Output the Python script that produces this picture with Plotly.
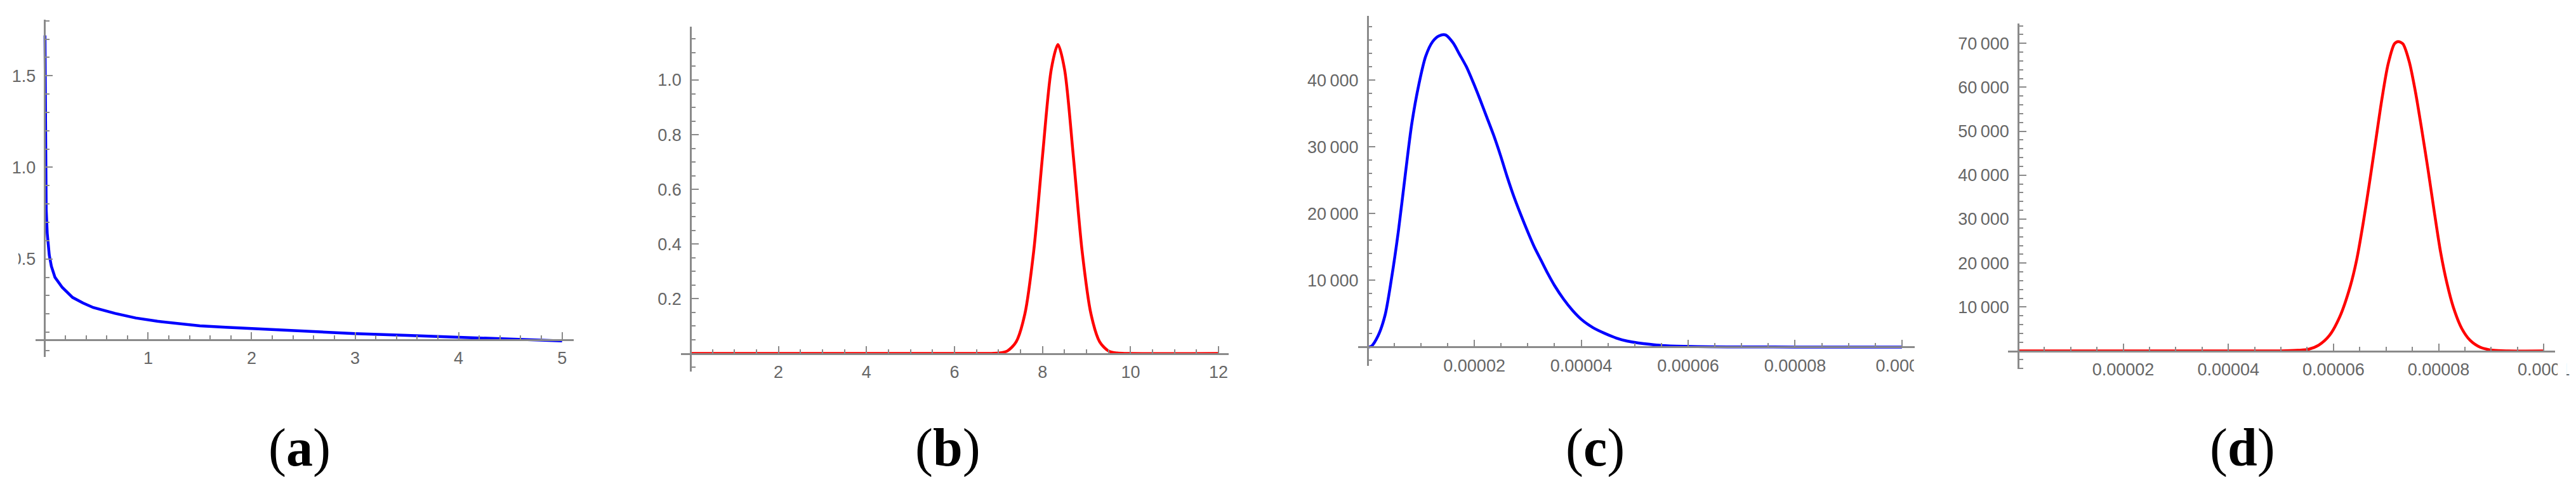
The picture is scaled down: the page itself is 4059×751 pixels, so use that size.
import plotly.graph_objects as go

W, H = 4059, 751
AXIS_COLOR = "#8a8a8a"
LABEL_COLOR = "#666666"
TICK_FONT = dict(family="Liberation Sans, Arial", size=27, color=LABEL_COLOR)

# ---------------- Panel (a) ----------------
a_x = [0.003, 0.006, 0.010, 0.015, 0.025, 0.045, 0.065, 0.10, 0.17, 0.27, 0.37, 0.47,
       0.68, 0.88, 1.09, 1.30, 1.50, 1.75, 2.0, 2.5, 3.0, 3.5, 4.0, 4.5, 5.0]
a_y = [1.72, 1.30, 0.95, 0.77, 0.64, 0.52, 0.46, 0.40, 0.345, 0.29, 0.26, 0.235,
       0.203, 0.178, 0.160, 0.146, 0.135, 0.127, 0.120, 0.106, 0.093, 0.083, 0.073, 0.063, 0.053]
a_xticks = [1, 2, 3, 4, 5]
a_xlabels = ["1", "2", "3", "4", "5"]
a_yticks = [0.5, 1.0, 1.5]
a_ylabels = ["0.5", "1.0", "1.5"]

# ---------------- Panel (b) ----------------
b_x = [0, 6.8, 7.0, 7.2, 7.4, 7.6, 7.8, 8.0, 8.2, 8.35, 8.5, 8.7, 8.9, 9.1, 9.3, 9.5, 9.7, 9.9, 12]
b_y = [0, 0, 0.0015, 0.009, 0.042, 0.145, 0.374, 0.722, 1.04, 1.13, 1.04, 0.722, 0.374,
       0.145, 0.042, 0.009, 0.0015, 0, 0]
b_xticks = [2, 4, 6, 8, 10, 12]
b_xlabels = ["2", "4", "6", "8", "10", "12"]
b_yticks = [0.2, 0.4, 0.6, 0.8, 1.0]
b_ylabels = ["0.2", "0.4", "0.6", "0.8", "1.0"]

# ---------------- Panel (c) ----------------
c_x = [0, 0.07e-5, 0.20e-5, 0.33e-5, 0.45e-5, 0.58e-5, 0.71e-5, 0.83e-5, 0.96e-5, 1.09e-5,
       1.22e-5, 1.34e-5, 1.46e-5, 1.60e-5, 1.72e-5, 1.85e-5, 1.98e-5, 2.10e-5, 2.23e-5,
       2.36e-5, 2.49e-5, 2.61e-5, 2.74e-5, 2.87e-5, 3.00e-5, 3.12e-5, 3.25e-5, 3.38e-5,
       3.50e-5, 3.67e-5, 3.84e-5, 4.01e-5, 4.22e-5, 4.44e-5, 4.65e-5, 4.86e-5, 5.07e-5,
       5.28e-5, 5.50e-5, 5.92e-5, 6.40e-5, 7.0e-5, 8.0e-5, 9.0e-5, 10.0e-5]
c_y = [0, 100, 1710, 4790, 10260, 17440, 25980, 33500, 39300, 43600, 45800, 46650, 46800,
       45640, 43930, 42050, 39660, 37260, 34530, 31790, 28720, 25640, 22560, 19830, 17260,
       15040, 12990, 10940, 9230, 7180, 5470, 4100, 2910, 2050, 1370, 890, 615, 410, 240,
       100, 30, 10, 0, 0, 0]
c_xticks = [2e-5, 4e-5, 6e-5, 8e-5, 1e-4]
c_xlabels = ["0.00002", "0.00004", "0.00006", "0.00008", "0.0001"]
c_yticks = [10000, 20000, 30000, 40000]
c_ylabels = ["10\u2009000", "20\u2009000", "30\u2009000", "40\u2009000"]

# ---------------- Panel (d) ----------------
d_x = [0, 5.0e-5, 5.32e-5, 5.52e-5, 5.72e-5, 5.92e-5, 6.12e-5, 6.32e-5, 6.44e-5, 6.56e-5,
       6.68e-5, 6.80e-5, 6.92e-5, 7.04e-5, 7.16e-5, 7.23e-5, 7.32e-5, 7.44e-5, 7.56e-5,
       7.68e-5, 7.80e-5, 7.92e-5, 8.04e-5, 8.16e-5, 8.28e-5, 8.44e-5, 8.60e-5, 8.80e-5,
       9.04e-5, 9.32e-5, 10.0e-5]
d_y = [0, 0, 150, 380, 1340, 3490, 7800, 14780, 20700, 28760, 37900, 47580, 57260, 65320,
       69890, 70400, 69890, 65860, 58870, 50270, 41130, 31450, 22310, 15320, 9950, 5110,
       2420, 810, 160, 0, 0]
d_xticks = [2e-5, 4e-5, 6e-5, 8e-5, 1e-4]
d_xlabels = ["0.00002", "0.00004", "0.00006", "0.00008", "0.0001"]
d_yticks = [10000, 20000, 30000, 40000, 50000, 60000, 70000]
d_ylabels = ["10\u2009000", "20\u2009000", "30\u2009000", "40\u2009000",
             "50\u2009000", "60\u2009000", "70\u2009000"]

panel_labels = ["a", "b", "c", "d"]
panel_label_x = [467, 1494, 2520, 3546]

# geometry: origin pixel, pixels per unit, ranges, where x-axis crosses y
panels = [
    dict(x=a_x, y=a_y, color="#0000ff", ox=62.7, sx=164.0, oy=544.0, sy=288.5,
         xr=[-0.09, 5.11], yr=[-0.035, 1.806], cross=0.059,
         xt=a_xticks, xl=a_xlabels, yt=a_yticks, yl=a_ylabels, xm=0.2, ym=0.1, shape="linear"),
    dict(x=b_x, y=b_y, color="#ff0000", ox=1086.0, sx=69.75, oy=548.5, sy=430.5,
         xr=[-0.22, 12.23], yr=[-0.066, 1.194], cross=0.0,
         xt=b_xticks, xl=b_xlabels, yt=b_yticks, yl=b_ylabels, xm=0.5, ym=0.05, shape="spline"),
    dict(x=c_x, y=c_y, color="#0000ff", ox=2158.9, sx=84.7e5, oy=538.4, sy=0.0105,
         xr=[-0.17e-5, 10.24e-5], yr=[-2850, 49640], cross=0.0,
         xt=c_xticks, xl=c_xlabels, yt=c_yticks, yl=c_ylabels, xm=0.5e-5, ym=2000, shape="spline"),
    dict(x=d_x, y=d_y, color="#ff0000", ox=3190.0, sx=83.3e5, oy=544.6, sy=0.00692,
         xr=[-0.19e-5, 10.22e-5], yr=[-4170, 74450], cross=0.0,
         xt=d_xticks, xl=d_xlabels, yt=d_yticks, yl=d_ylabels, xm=0.5e-5, ym=2000, shape="spline"),
]

fig = go.Figure()
layout = {}
for i, p in enumerate(panels, start=1):
    s = "" if i == 1 else str(i)
    left = p["ox"] + p["xr"][0] * p["sx"]
    right = p["ox"] + p["xr"][1] * p["sx"]
    bottom = p["oy"] - p["yr"][0] * p["sy"]
    top = p["oy"] - p["yr"][1] * p["sy"]
    xdom = [left / W, right / W]
    ydom = [1 - bottom / H, 1 - top / H]
    xpos = 1 - (p["oy"] - p["cross"] * p["sy"]) / H
    ypos = p["ox"] / W

    line = dict(color=p["color"], width=4.5, shape=p["shape"])
    if p["shape"] == "spline":
        line["smoothing"] = 0.8
    fig.add_trace(go.Scatter(x=p["x"], y=p["y"], mode="lines", line=line,
                             xaxis="x" + s, yaxis="y" + s, showlegend=False,
                             hoverinfo="skip"))

    common = dict(showgrid=False, zeroline=False, showline=True, linecolor=AXIS_COLOR,
                  linewidth=2.5, ticks="inside", ticklen=11, tickwidth=2,
                  tickcolor=AXIS_COLOR, tickmode="array", tickfont=TICK_FONT,
                  anchor="free")
    layout["xaxis" + s] = dict(common, domain=xdom, range=p["xr"], position=xpos,
                               tickvals=p["xt"], ticktext=p["xl"], ticklabelstandoff=4,
                               minor=dict(tickmode="linear", tick0=0, dtick=p["xm"],
                                          ticks="inside", ticklen=6, tickwidth=1.5,
                                          tickcolor=AXIS_COLOR, showgrid=False))
    layout["yaxis" + s] = dict(common, domain=ydom, range=p["yr"], position=ypos,
                               tickvals=p["yt"], ticktext=p["yl"], ticklabelstandoff=8,
                               minor=dict(tickmode="linear", tick0=0, dtick=p["ym"],
                                          ticks="inside", ticklen=6, tickwidth=1.5,
                                          tickcolor=AXIS_COLOR, showgrid=False))

annotations = []
for lab, px in zip(panel_labels, panel_label_x):
    annotations.append(dict(text="(<b>" + lab + "</b>)", x=px / W, y=1 - 697 / H,
                            xref="paper", yref="paper", xanchor="center", yanchor="middle",
                            showarrow=False,
                            font=dict(family="Liberation Serif, Times New Roman", size=84,
                                      color="black")))

shapes = [
    # clipped edge of panel (c) tick label
    dict(type="rect", xref="paper", yref="paper", x0=3025 / W, x1=3075 / W,
         y0=1 - 600 / H, y1=1 - 548 / H, fillcolor="white", line=dict(width=0),
         layer="above"),
    # clipped edge of panel (d) tick label at the figure border
    dict(type="rect", xref="paper", yref="paper", x0=4045 / W, x1=1,
         y0=1 - 600 / H, y1=1 - 550 / H, fillcolor="white", line=dict(width=0),
         layer="above"),
    # clipped left edge of the "0.5" label in panel (a)
    dict(type="rect", xref="paper", yref="paper", x0=0, x1=21 / W,
         y0=1 - 414 / H, y1=1 - 386 / H, fillcolor="white", line=dict(width=0),
         layer="above"),
]

fig.update_layout(width=W, height=H, margin=dict(l=0, r=0, t=0, b=0),
                  paper_bgcolor="white", plot_bgcolor="white",
                  annotations=annotations, shapes=shapes, **layout)

fig.write_html("out.html")
